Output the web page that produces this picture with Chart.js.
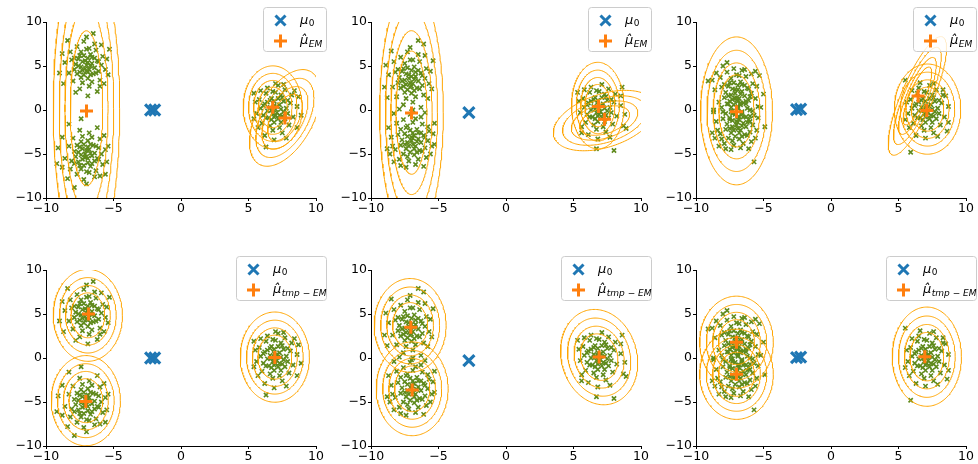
<!DOCTYPE html>
<html><head><meta charset="utf-8">
<script src="https://cdn.jsdelivr.net/npm/chart.js@4.4.1/dist/chart.umd.min.js"></script>
<style>
html,body{margin:0;padding:0;background:#fff;width:978px;height:464px;overflow:hidden;position:relative}
canvas{position:absolute}
</style></head><body>
<script>
// ---------- DATA ----------
const tickValues = [-10, -5, 0, 5, 10];
const contourLevels = [1, 1.33, 1.68, 2.05];
const legendLabel0 = ['\u03bc', '0'];
const legendLabelEM = ['\u03bc\u0302', 'EM'];
const legendLabelTmp = ['\u03bc\u0302', 'tmp', ' \u2212 ', 'EM'];

// data set A (panels 1 and 4)
const ptsA1 = [[-7.0,5.1],[-6.8,4.6],[-7.3,5.5],[-6.6,5.3],[-7.5,4.3],[-6.9,5.9],[-7.2,4.0],[-6.4,4.8],[-7.8,5.2],[-6.7,6.3],
[-7.1,4.7],[-6.2,5.6],[-7.6,5.8],[-6.5,4.1],[-7.4,6.6],[-6.9,3.6],[-7.9,4.6],[-6.1,4.4],[-7.0,6.9],[-6.6,3.2],
[-8.1,5.7],[-5.9,5.1],[-7.3,3.1],[-6.3,6.8],[-8.3,4.2],[-5.8,6.1],[-7.7,7.2],[-6.8,2.7],[-8.6,5.4],[-5.6,4.6],
[-7.2,7.8],[-6.0,3.4],[-8.0,3.3],[-6.4,7.5],[-8.8,6.4],[-5.5,5.8],[-7.5,2.4],[-6.2,2.1],[-9.0,4.2],[-5.3,6.9],
[-7.0,8.3],[-6.5,8.7],[-8.4,7.9],[-6.9,1.6],[-7.8,2.0],[-5.7,3.0],[-8.7,3.0],[-5.4,4.0],[-7.1,5.6],[-6.7,5.0],
[-7.4,4.9],[-6.9,4.3],[-7.6,5.0],[-6.4,5.9],[-7.2,6.2],[-6.7,4.0],[-7.9,5.9],[-6.3,4.2],[-7.3,4.5],[-6.6,6.0],
[-7.0,4.4],[-7.5,6.2],[-6.1,5.5],[-6.9,5.4],[-7.7,4.1],[-6.8,7.0],[-8.2,6.6],[-5.9,7.4],[-7.4,3.7],[-6.0,2.7]];
const ptsA2 = [[-7.1,-5.0],[-6.8,-4.5],[-7.3,-5.6],[-6.6,-5.2],[-7.5,-4.2],[-6.9,-6.0],[-7.2,-3.9],[-6.4,-4.9],[-7.8,-5.3],[-6.7,-6.4],
[-7.0,-4.6],[-6.2,-5.5],[-7.6,-5.9],[-6.5,-4.0],[-7.4,-6.7],[-6.9,-3.5],[-7.9,-4.7],[-6.1,-4.3],[-7.0,-7.0],[-6.6,-3.1],
[-8.1,-5.8],[-5.9,-5.0],[-7.3,-3.0],[-6.3,-6.9],[-8.3,-4.1],[-5.8,-6.2],[-7.7,-7.3],[-6.8,-2.6],[-8.6,-5.5],[-5.6,-4.5],
[-7.2,-7.9],[-6.0,-3.3],[-8.0,-3.2],[-6.4,-7.6],[-8.8,-6.5],[-5.5,-5.9],[-7.5,-2.3],[-6.2,-2.0],[-9.1,-4.3],[-5.6,-7.3],
[-7.0,-8.4],[-7.9,-8.8],[-8.4,-7.8],[-7.4,-1.0],[-8.3,-1.6],[-5.7,-2.9],[-8.8,-3.1],[-5.4,-4.1],[-7.1,-5.4],[-6.7,-4.9],
[-7.4,-5.1],[-6.9,-4.2],[-7.6,-4.8],[-6.4,-5.8],[-7.2,-6.3],[-6.7,-3.9],[-7.9,-6.1],[-6.3,-4.1],[-7.3,-4.4],[-6.6,-6.1],
[-7.0,-5.3],[-7.5,-6.3],[-6.1,-5.6],[-6.9,-5.5],[-7.7,-4.0],[-6.8,-7.1],[-8.2,-6.7],[-6.0,-7.5],[-7.4,-3.6],[-9.2,-6.1]];
const ptsA3 = [[7.0,0.1],[6.8,-0.4],[7.3,0.6],[6.6,0.3],[7.5,-0.7],[6.9,1.0],[7.2,-1.0],[6.4,-0.1],[7.8,0.2],[6.7,1.3],
[7.1,-0.3],[6.2,0.7],[7.6,1.0],[6.5,-0.9],[7.4,1.7],[6.9,-1.4],[7.9,-0.4],[6.1,-0.6],[7.0,2.0],[6.6,-1.8],
[8.1,0.8],[5.9,0.2],[7.3,-2.0],[6.3,1.9],[8.3,-0.8],[5.8,1.2],[7.7,2.3],[6.8,-2.3],[8.6,0.4],[5.6,-0.4],
[7.2,2.8],[6.0,-1.5],[8.0,-1.7],[6.4,2.5],[8.7,1.5],[5.5,0.9],[7.5,-2.6],[6.2,-2.9],[8.9,-0.6],[5.4,1.9],
[7.0,3.0],[7.6,2.9],[8.4,2.2],[6.9,-3.4],[7.8,-3.2],[5.7,-2.0],[8.6,-2.0],[5.4,-1.0],[7.1,0.4],[6.7,0.0],
[7.4,0.1],[6.9,-0.8],[7.6,-0.2],[6.4,0.9],[7.2,1.3],[6.7,-1.1],[7.9,1.1],[6.3,-0.9],[7.3,-0.6],[6.6,1.1],
[7.0,-0.6],[7.5,1.4],[6.1,0.5],[6.9,0.5],[7.7,-1.0],[6.8,2.1],[8.2,1.7],[5.9,2.2],[7.4,-1.4],[6.3,-4.2]];

// data set B (panels 2 and 5)
const ptsB1 = [[-7.2,3.6],[-6.9,3.0],[-7.4,4.1],[-6.7,3.8],[-7.6,2.7],[-7.0,4.5],[-7.3,2.3],[-6.5,3.3],[-7.9,3.7],[-6.8,4.9],
[-7.1,3.1],[-6.3,4.2],[-7.7,4.4],[-6.6,2.5],[-7.5,5.3],[-7.0,1.9],[-8.0,3.1],[-6.2,2.8],[-7.1,5.7],[-6.7,1.5],
[-8.2,4.3],[-6.0,3.6],[-7.4,1.3],[-6.4,5.5],[-8.4,2.6],[-5.9,4.7],[-7.8,6.0],[-6.9,0.9],[-8.7,4.0],[-5.7,3.0],
[-7.3,6.6],[-6.1,1.7],[-8.1,1.5],[-6.5,6.3],[-8.9,5.1],[-5.6,4.4],[-7.6,0.6],[-6.3,0.3],[-9.0,2.6],[-5.4,5.6],
[-7.1,7.1],[-6.5,7.9],[-6.1,7.5],[-8.5,6.7],[-7.0,-0.2],[-7.9,0.1],[-5.8,1.3],[-8.8,1.4],[-5.5,2.4],[-7.2,4.0],
[-6.8,3.5],[-7.5,3.4],[-7.0,2.7],[-7.7,3.3],[-6.5,4.5],[-7.3,4.8],[-6.8,2.2],[-8.0,4.6],[-6.4,2.4],[-7.4,2.9],
[-6.7,4.3],[-7.1,2.6],[-7.6,4.7],[-6.2,3.9],[-7.0,3.8],[-7.8,2.5],[-6.9,5.7],[-8.3,5.5],[-6.0,6.2],[-7.5,2.0]];
const ptsB2 = [[-7.0,-3.5],[-6.7,-4.1],[-7.3,-3.0],[-6.5,-3.3],[-7.4,-4.4],[-6.9,-2.6],[-7.1,-4.8],[-6.3,-3.7],[-7.7,-3.4],[-6.6,-2.2],
[-6.9,-3.9],[-6.1,-2.9],[-7.5,-2.7],[-6.4,-4.6],[-7.3,-1.8],[-6.8,-5.1],[-7.8,-4.0],[-6.0,-4.3],[-6.9,-1.4],[-6.5,-5.6],
[-8.0,-2.8],[-5.8,-3.5],[-7.2,-5.8],[-6.2,-1.6],[-8.2,-4.5],[-5.7,-2.4],[-7.6,-1.1],[-6.7,-6.2],[-8.5,-3.1],[-5.5,-4.1],
[-7.1,-0.5],[-5.9,-5.4],[-7.9,-5.6],[-6.3,-0.8],[-8.7,-2.0],[-5.4,-2.7],[-7.4,-6.5],[-6.1,-6.4],[-8.8,-4.4],[-5.3,-1.5],
[-6.9,0.0],[-8.3,-0.4],[-6.0,-0.3],[-8.3,-5.9],[-7.8,-6.3],[-5.6,-5.0],[-8.6,-5.0],[-5.3,-3.9],[-7.0,-3.1],[-6.6,-3.6],
[-7.3,-3.7],[-6.8,-4.4],[-7.5,-3.9],[-6.3,-2.6],[-7.1,-2.3],[-6.6,-4.8],[-7.8,-2.2],[-6.2,-4.7],[-7.2,-4.1],[-6.5,-2.6],
[-6.9,-3.2],[-7.4,-2.0],[-6.0,-3.1],[-6.8,-2.9],[-7.6,-5.0],[-6.7,-1.0],[-8.1,-1.5],[-5.8,-1.9],[-7.3,-5.3],[-8.4,-4.1]];
const ptsB3 = [[6.9,0.2],[6.7,-0.3],[7.2,0.7],[6.5,0.4],[7.4,-0.6],[6.8,1.1],[7.1,-0.9],[6.3,0.0],[7.7,0.3],[6.6,1.4],
[7.0,-0.2],[6.1,0.8],[7.5,1.1],[6.4,-0.8],[7.3,1.8],[6.8,-1.3],[7.8,-0.3],[6.0,-0.5],[6.9,2.1],[6.5,-1.7],
[8.0,0.9],[5.8,0.3],[7.2,-1.9],[6.2,2.0],[8.2,-0.7],[5.7,1.3],[7.6,2.4],[6.7,-2.2],[8.5,0.5],[5.5,-0.3],
[7.1,2.9],[5.9,-1.4],[7.9,-1.6],[6.3,2.6],[8.6,2.6],[5.4,1.0],[7.4,-2.5],[6.1,-2.8],[8.8,-0.5],[5.3,2.0],
[6.7,-4.4],[8.0,-4.6],[8.5,1.6],[6.8,-3.3],[7.7,-3.1],[5.6,-1.9],[8.7,-1.8],[5.6,-2.6],[7.0,0.5],[6.6,0.1],
[7.3,0.2],[6.8,-0.7],[7.5,-0.1],[6.3,1.0],[7.1,1.4],[6.6,-1.0],[7.8,1.2],[6.2,-0.8],[7.2,-0.5],[6.5,1.2],
[6.9,-0.5],[7.4,1.5],[6.0,0.6],[6.8,0.6],[7.6,-0.9],[6.7,2.2],[8.1,1.8],[5.8,2.3],[7.3,-1.3],[8.9,-2.1]];

// data set C (panels 3 and 6)
const ptsC1 = [[-7.1,1.9],[-6.8,1.3],[-7.3,2.4],[-6.6,2.1],[-7.5,1.0],[-6.9,2.8],[-7.2,0.6],[-6.4,1.6],[-7.8,2.0],[-6.7,3.2],
[-7.0,1.4],[-6.2,2.5],[-7.6,2.7],[-6.5,0.8],[-7.4,3.6],[-6.9,0.2],[-7.9,1.4],[-6.1,1.1],[-7.0,4.0],[-6.6,-0.2],
[-8.1,2.6],[-5.9,1.9],[-7.3,-0.4],[-6.3,3.8],[-8.3,0.9],[-5.8,3.0],[-7.7,4.3],[-6.8,-0.8],[-8.6,2.3],[-5.6,1.3],
[-7.2,4.7],[-6.0,0.0],[-8.0,-0.2],[-6.4,4.6],[-8.8,3.4],[-5.5,2.7],[-7.5,-1.1],[-6.2,-1.4],[-9.1,3.3],[-5.3,3.9],
[-7.7,5.4],[-8.0,5.0],[-6.6,4.5],[-8.5,4.2],[-5.6,4.4],[-5.0,1.8],[-8.7,0.0],[-5.4,0.4],[-7.1,2.3],[-6.7,1.8],
[-7.4,1.7],[-6.9,1.0],[-7.6,1.6],[-6.4,2.8],[-7.2,3.1],[-6.7,0.6],[-7.9,2.9],[-6.3,0.7],[-7.3,1.2],[-6.6,2.9],
[-7.0,1.1],[-7.5,3.1],[-6.1,2.4],[-6.9,2.3],[-7.7,0.7],[-6.8,3.9],[-8.2,3.7],[-5.9,4.1],[-7.4,0.3],[-6.0,-0.7]];
const ptsC2 = [[-7.0,-1.7],[-6.7,-2.3],[-7.3,-1.2],[-6.5,-1.5],[-7.4,-2.6],[-6.9,-0.8],[-7.1,-3.0],[-6.3,-1.9],[-7.7,-1.6],[-6.6,-0.4],
[-6.9,-2.1],[-6.1,-1.1],[-7.5,-0.9],[-6.4,-2.8],[-7.3,-0.1],[-6.8,-3.3],[-7.8,-2.2],[-6.0,-2.5],[-6.9,0.4],[-6.5,-3.8],
[-8.0,-1.0],[-5.8,-1.7],[-7.2,-4.0],[-6.2,0.2],[-8.2,-2.7],[-5.7,-0.6],[-7.6,0.7],[-6.7,-4.3],[-8.5,-1.3],[-5.5,-2.3],
[-7.1,1.3],[-5.9,-3.6],[-7.9,-3.8],[-6.3,1.0],[-8.7,-0.2],[-5.4,-0.9],[-7.4,-4.5],[-6.1,-4.4],[-8.8,-2.6],[-5.2,0.3],
[-5.7,-5.9],[-8.1,-3.3],[-6.0,1.5],[-8.3,-4.1],[-7.8,-4.4],[-5.6,-3.2],[-8.6,-3.2],[-4.9,-1.9],[-7.0,-1.3],[-6.6,-1.8],
[-7.3,-1.9],[-6.8,-2.6],[-7.5,-2.1],[-6.3,-0.8],[-7.1,-0.5],[-6.6,-3.0],[-7.8,-0.4],[-6.2,-2.9],[-7.2,-2.3],[-6.5,-0.8],
[-6.9,-1.4],[-7.4,-0.2],[-6.0,-1.3],[-6.8,-1.1],[-7.6,-3.2],[-6.7,0.8],[-8.1,0.3],[-5.8,-0.1],[-7.3,-3.5],[-8.4,-2.3]];
const ptsC3 = [[7.1,0.1],[6.9,-0.4],[7.4,0.6],[6.7,0.3],[7.6,-0.7],[7.0,1.0],[7.3,-1.0],[6.5,-0.1],[7.9,0.2],[6.8,1.3],
[7.2,-0.3],[6.3,0.7],[7.7,1.0],[6.6,-0.9],[7.5,1.7],[7.0,-1.4],[8.0,-0.4],[6.2,-0.6],[7.1,2.0],[6.7,-1.8],
[8.2,0.8],[6.0,0.2],[7.4,-2.0],[6.4,1.9],[8.4,-0.8],[5.9,1.2],[7.8,2.3],[6.9,-2.3],[8.7,0.4],[5.7,-0.4],
[7.3,2.8],[6.1,-1.5],[8.1,-1.7],[6.5,2.5],[8.5,1.6],[5.6,0.9],[7.6,-2.6],[6.3,-2.9],[8.6,-2.4],[5.5,3.4],
[7.6,3.0],[6.6,3.1],[8.3,2.3],[7.0,-3.2],[7.9,-3.0],[5.8,-2.0],[8.7,-1.4],[5.5,-1.1],[7.2,0.4],[6.8,0.0],
[7.5,0.1],[7.0,-0.8],[7.7,-0.2],[6.5,0.9],[7.3,1.3],[6.8,-1.1],[8.0,1.1],[6.4,-0.9],[7.4,-0.6],[6.7,1.1],
[7.1,-0.6],[7.6,1.4],[6.2,0.5],[7.0,0.5],[7.8,-1.0],[6.9,2.1],[8.3,1.7],[6.0,2.2],[7.5,-1.4],[5.9,-4.8]];

// initial means (mu_0) per panel
const mu0_1 = [[-2.25,0.0],[-1.95,0.0]];
const mu0_2 = [[-2.75,-0.3]];
const mu0_3 = [[-2.55,0.05],[-2.25,0.1]];
const mu0_4 = [[-2.25,0.0],[-1.95,0.0]];
const mu0_5 = [[-2.75,-0.3]];
const mu0_6 = [[-2.55,0.05],[-2.25,0.1]];

// estimated means per panel
const muHat_1 = [[-7.0,-0.1],[6.8,0.3],[7.7,-0.9]];
const muHat_2 = [[-7.0,-0.35],[6.85,0.4],[7.3,-1.05]];
const muHat_3 = [[-7.0,-0.2],[6.45,1.6],[7.1,-0.05]];
const muHat_4 = [[-6.85,5.0],[-7.05,-4.95],[6.95,0.05]];
const muHat_5 = [[-7.05,3.5],[-6.95,-3.65],[6.9,0.1]];
const muHat_6 = [[-7.0,1.8],[-7.0,-1.85],[6.95,0.15]];

// Gaussian contour ellipses per panel: [cx, cy, semi-axis a, semi-axis b, angle of a (deg)] for the innermost level
const ell_1 = [[-7.0,0.2,1.2,8.8,0],[6.8,0.3,1.07,2.3,0],[7.7,-0.9,2.77,1.07,74]];
const ell_2 = [[-7.0,-0.3,1.15,7.0,0],[6.8,0.5,0.95,2.4,0],[7.3,-1.2,2.1,1.35,38]];
const ell_3 = [[-7.0,-0.1,1.3,4.1,0],[7.15,0.1,1.2,2.5,0],[6.4,1.6,3.4,0.6,75]];
const ell_4 = [[-6.9,4.85,1.25,2.55,0],[-7.05,-4.85,1.25,2.5,0],[6.95,0.1,1.25,2.5,0]];
const ell_5 = [[-7.1,3.7,1.3,2.6,0],[-6.95,-3.5,1.3,2.6,0],[6.9,0.1,1.38,2.65,5]];
const ell_6 = [[-7.0,1.8,1.33,2.55,0],[-7.0,-1.85,1.33,2.5,0],[7.1,0.15,1.25,2.75,0]];

// ---------- build ----------
const ptsA = [...ptsA1, ...ptsA2, ...ptsA3];
const ptsB = [...ptsB1, ...ptsB2, ...ptsB3];
const ptsC = [...ptsC1, ...ptsC2, ...ptsC3];

const panels = [
  {pts: ptsA, mu0: mu0_1, hat: muHat_1, ell: ell_1, label: legendLabelEM},
  {pts: ptsB, mu0: mu0_2, hat: muHat_2, ell: ell_2, label: legendLabelEM},
  {pts: ptsC, mu0: mu0_3, hat: muHat_3, ell: ell_3, label: legendLabelEM},
  {pts: ptsA, mu0: mu0_4, hat: muHat_4, ell: ell_4, label: legendLabelTmp},
  {pts: ptsB, mu0: mu0_5, hat: muHat_5, ell: ell_5, label: legendLabelTmp},
  {pts: ptsC, mu0: mu0_6, hat: muHat_6, ell: ell_6, label: legendLabelTmp}
];
const layout = [
  {left:0,   top:0,   w:330, h:216, padR:14, legW:63, legDy:15},
  {left:325, top:0,   w:330, h:216, padR:14, legW:63, legDy:15},
  {left:650, top:0,   w:328, h:216, padR:12, legW:63, legDy:15},
  {left:0,   top:248, w:330, h:216, padR:14, legW:90, legDy:14},
  {left:325, top:248, w:330, h:216, padR:14, legW:90, legDy:14},
  {left:650, top:248, w:328, h:216, padR:12, legW:90, legDy:14}
];

const GREEN = '#5f8a1c', ORANGE_LINE = '#ffa500', BLUE = '#1f77b4', ORANGE = '#ff7f0e';
const FONT = "'DejaVu Sans'";
const toXY = arr => arr.map(p => ({x: p[0], y: p[1]}));
const fmt = v => (v < 0 ? '\u2212' + Math.abs(v) : String(v));

function ellipsePoints(e, r) {
  const [cx, cy, a, b, ang] = e;
  const th = ang * Math.PI / 180, c = Math.cos(th), s = Math.sin(th);
  const out = [];
  for (let k = 0; k <= 180; k++) {
    const t = 2 * Math.PI * k / 180;
    const u = r * a * Math.cos(t), v = r * b * Math.sin(t);
    out.push({x: cx + u * c - v * s, y: cy + u * s + v * c});
  }
  return out;
}

function drawMarkX(ctx, x, y, h, color, lw) {
  ctx.beginPath();
  ctx.moveTo(x - h, y - h); ctx.lineTo(x + h, y + h);
  ctx.moveTo(x + h, y - h); ctx.lineTo(x - h, y + h);
  ctx.strokeStyle = color; ctx.lineWidth = lw; ctx.stroke();
}
function drawMarkPlus(ctx, x, y, h, color, lw) {
  ctx.beginPath();
  ctx.moveTo(x - h, y); ctx.lineTo(x + h, y);
  ctx.moveTo(x, y - h); ctx.lineTo(x, y + h);
  ctx.strokeStyle = color; ctx.lineWidth = lw; ctx.stroke();
}
function drawMath(ctx, x, y, parts) {
  ctx.fillStyle = '#000';
  ctx.textBaseline = 'alphabetic';
  ctx.textAlign = 'left';
  ctx.font = 'italic 13px ' + FONT;
  ctx.fillText(parts[0], x, y);
  let cx = x + ctx.measureText('\u03bc').width + 0.5;
  for (let i = 1; i < parts.length; i++) {
    const p = parts[i];
    const upright = /^[0-9]$/.test(p) || p.indexOf('\u2212') >= 0;
    ctx.font = (upright ? '' : 'italic ') + '9px ' + FONT;
    ctx.fillText(p, cx, y + 2.5);
    cx += ctx.measureText(p).width;
  }
}

const mathLegend = {
  id: 'mathLegend',
  afterDraw(chart, args, opts) {
    const {ctx, chartArea} = chart;
    const w = opts.w, h = 44;
    const x0 = chartArea.right + 10 - w + 0.5, y0 = chartArea.top - opts.dy + 0.5;
    ctx.save();
    ctx.beginPath();
    ctx.roundRect(x0, y0, w, h, 3);
    ctx.fillStyle = 'rgba(255,255,255,0.8)';
    ctx.fill();
    ctx.strokeStyle = '#cccccc'; ctx.lineWidth = 1; ctx.stroke();
    drawMarkX(ctx, x0 + 17, y0 + 13, 5, BLUE, 3);
    drawMarkPlus(ctx, x0 + 17, y0 + 33.5, 6.5, ORANGE, 3);
    drawMath(ctx, x0 + 36.5, y0 + 16, legendLabel0);
    drawMath(ctx, x0 + 36.5, y0 + 36.5, opts.label);
    ctx.restore();
  }
};

function axis(isX) {
  return {
    type: 'linear', min: -10, max: 10,
    afterBuildTicks: s => { s.ticks = tickValues.map(v => ({value: v})); },
    afterFit: s => { if (isX) s.height = 18; else s.width = 46; },
    ticks: {
      callback: v => fmt(v), color: '#000', padding: isX ? 0 : 1,
      font: {family: FONT, size: 12.5}, maxRotation: 0, autoSkip: false
    },
    grid: {drawOnChartArea: false, drawTicks: true, tickLength: 3, tickColor: '#000', tickWidth: 1},
    border: {display: true, color: '#000', width: 1}
  };
}

panels.forEach((p, i) => {
  const L = layout[i];
  const cv = document.createElement('canvas');
  cv.width = L.w; cv.height = L.h;
  cv.style.left = L.left + 'px'; cv.style.top = L.top + 'px';
  cv.style.width = L.w + 'px'; cv.style.height = L.h + 'px';
  document.body.appendChild(cv);

  const datasets = [];
  datasets.push({
    data: toXY(p.pts), pointStyle: 'crossRot', pointRadius: 3.0, pointBorderWidth: 1.6,
    borderColor: GREEN, backgroundColor: GREEN, showLine: false, order: 4
  });
  p.ell.forEach(e => contourLevels.forEach(r => {
    datasets.push({
      data: ellipsePoints(e, r), showLine: true, borderColor: ORANGE_LINE, borderWidth: 1,
      pointRadius: 0, fill: false, tension: 0, order: 3, clip: 0
    });
  }));
  datasets.push({
    data: toXY(p.mu0), pointStyle: 'crossRot', pointRadius: 7.8, pointBorderWidth: 3.2,
    borderColor: BLUE, backgroundColor: BLUE, showLine: false, order: 2
  });
  datasets.push({
    data: toXY(p.hat), pointStyle: 'cross', pointRadius: 6.5, pointBorderWidth: 3,
    borderColor: ORANGE, backgroundColor: ORANGE, showLine: false, order: 1
  });

  new Chart(cv, {
    type: 'scatter',
    data: {datasets},
    options: {
      responsive: false, animation: false, devicePixelRatio: 1,
      layout: {padding: {left: 0, right: L.padR, top: 22, bottom: 0}},
      plugins: {legend: {display: false}, tooltip: {enabled: false},
                mathLegend: {w: L.legW, dy: L.legDy, label: p.label}},
      scales: {x: axis(true), y: axis(false)},
      events: []
    },
    plugins: [mathLegend]
  });
});
</script>
</body></html>
